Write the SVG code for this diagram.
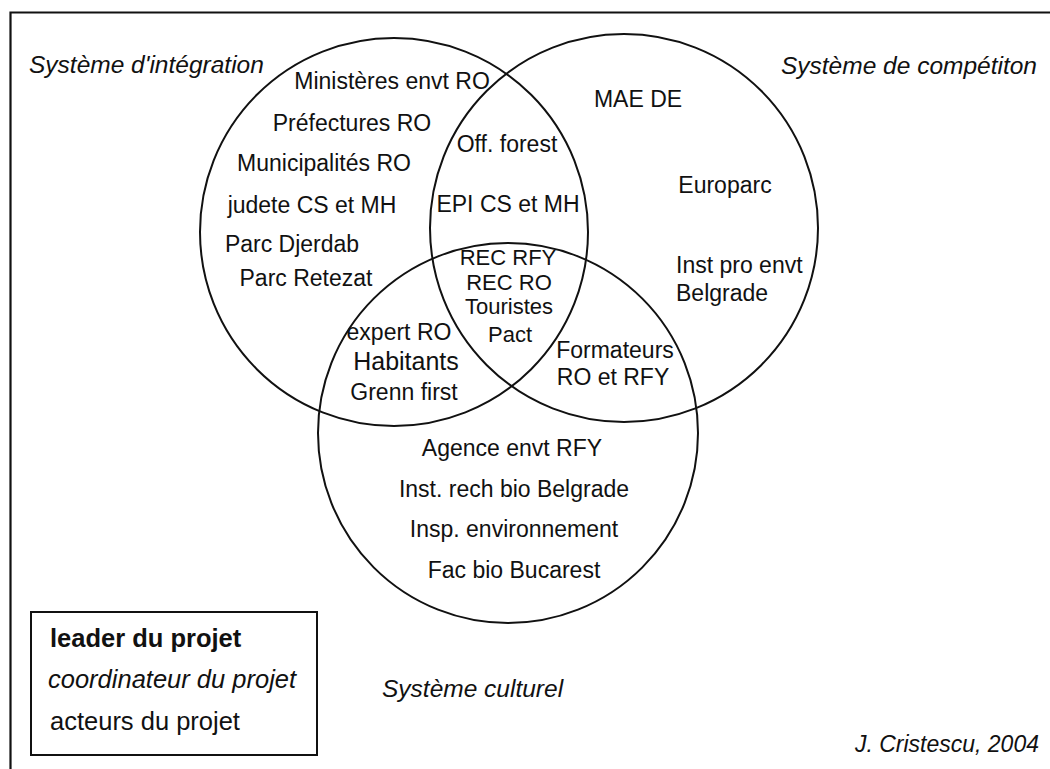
<svg xmlns="http://www.w3.org/2000/svg" width="1050" height="769" viewBox="0 0 1050 769">
<style>
text{font-family:"Liberation Sans",Arial,Helvetica,sans-serif;fill:#111;font-size:23px}
.c{text-anchor:middle}
.it{font-style:italic;font-size:24.5px}
.lg{font-size:25.5px}
.mid{font-size:22px}
.set{fill:none;stroke:#111;stroke-width:2}
</style>
<rect width="1050" height="769" fill="#fff"/>
<path d="M10.5 769 V12.5 H1050" fill="none" stroke="#111" stroke-width="2.2"/>
<g id="circles">
<circle id="integration" class="set" cx="394" cy="232" r="194"/>
<circle id="competition" class="set" cx="624" cy="228" r="194"/>
<circle id="culturel" class="set" cx="508" cy="433" r="190"/>
</g>
<g id="set-labels">
<text class="it" x="29" y="73">Système d'intégration</text>
<text class="it" x="1037" y="74" text-anchor="end">Système de compétiton</text>
<text class="it" x="382" y="697">Système culturel</text>
</g>
<g id="integration-only">
<text class="c" x="392" y="89">Ministères envt RO</text>
<text class="c" x="352" y="131">Préfectures RO</text>
<text class="c" x="324" y="171">Municipalités RO</text>
<text class="c" x="312" y="213">judete CS et MH</text>
<text class="c" x="292" y="252">Parc Djerdab</text>
<text class="c" x="306" y="286">Parc Retezat</text>
</g>
<g id="integration-competition">
<text class="c" x="507" y="152">Off. forest</text>
<text class="c" x="508" y="212">EPI CS et MH</text>
</g>
<g id="competition-only">
<text class="c" x="638" y="107">MAE DE</text>
<text class="c" x="725" y="193">Europarc</text>
<text x="676" y="273">Inst pro envt</text>
<text x="676" y="301">Belgrade</text>
</g>
<g id="all-three">
<text class="c mid" x="508" y="265">REC RFY</text>
<text class="c mid" x="509" y="290">REC RO</text>
<text class="c mid" x="509" y="314">Touristes</text>
<text class="c mid" x="510" y="342">Pact</text>
</g>
<g id="integration-culturel">
<text class="c" x="399" y="340">expert RO</text>
<text class="c" x="406" y="370" style="font-size:25px">Habitants</text>
<text class="c" x="404" y="400">Grenn first</text>
</g>
<g id="competition-culturel">
<text class="c" x="615" y="358">Formateurs</text>
<text class="c" x="613" y="385">RO et RFY</text>
</g>
<g id="culturel-only">
<text class="c" x="512" y="456">Agence envt RFY</text>
<text class="c" x="514" y="497">Inst. rech bio Belgrade</text>
<text class="c" x="514" y="537">Insp. environnement</text>
<text class="c" x="514" y="578">Fac bio Bucarest</text>
</g>
<g id="legend">
<rect x="31" y="612" width="286" height="143" fill="none" stroke="#111" stroke-width="2"/>
<text class="lg" x="50" y="647" font-weight="bold">leader du projet</text>
<text class="lg" x="48" y="688" font-style="italic">coordinateur du projet</text>
<text class="lg" x="50" y="730">acteurs du projet</text>
</g>
<text id="credit" x="1039" y="752" text-anchor="end" font-style="italic">J. Cristescu, 2004</text>
</svg>
